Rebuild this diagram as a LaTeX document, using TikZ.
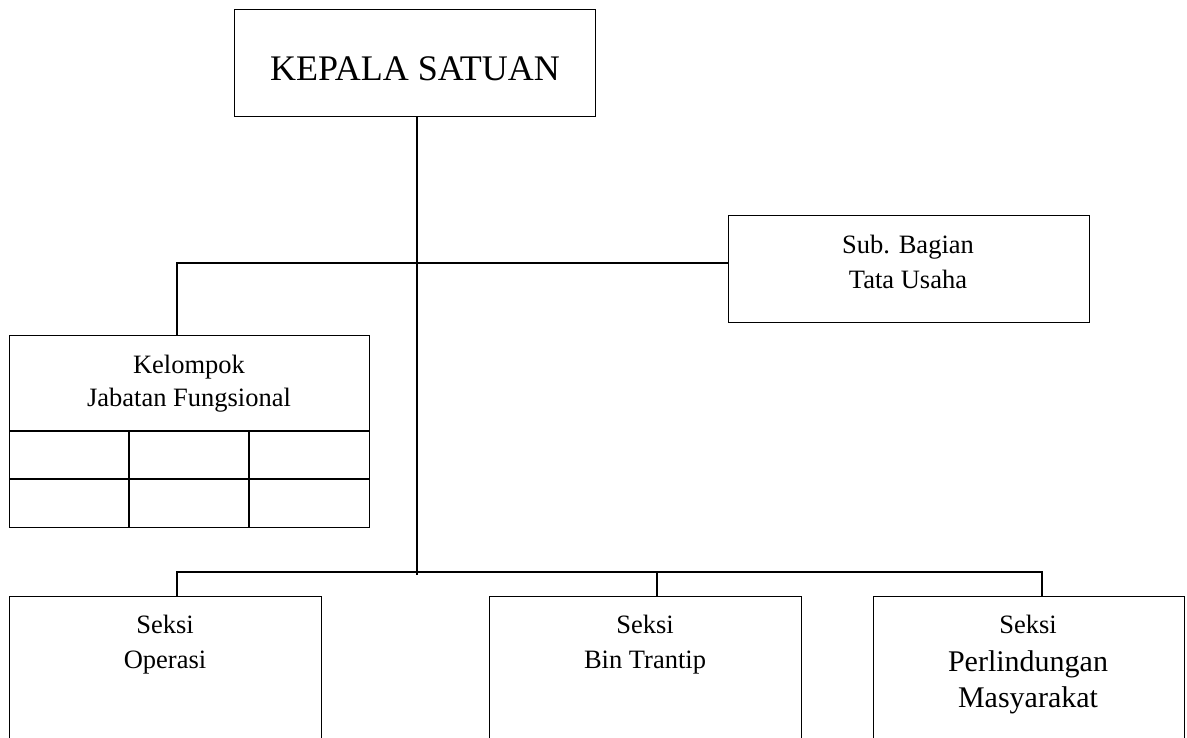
\documentclass[tikz,border=0pt]{standalone}
\usepackage{fontspec}
\setmainfont{Liberation Serif}
\begin{document}
\begin{tikzpicture}[x=1pt,y=-1pt,
  box/.style={draw, line width=1.4pt, inner sep=0pt, anchor=north west},
  conn/.style={line width=1.4pt},
  lbl/.style={anchor=base, inner sep=0pt, font=\fontsize{26.5}{30}\selectfont},
  lblbig/.style={anchor=base, inner sep=0pt, font=\fontsize{30}{34}\selectfont},
  title/.style={anchor=base, inner sep=0pt, font=\fontsize{36}{40}\selectfont}]
\clip (0,0) rectangle (1187,737);
\fill[white] (0,0) rectangle (1187,737);
% boxes
\node[box, minimum width=361pt, minimum height=107pt] (kepala) at (234,9) {};
\node[box, minimum width=361pt, minimum height=107pt] (sub) at (728,215) {};
\node[box, minimum width=360pt, minimum height=192pt] (kel) at (9,335) {};
\node[box, minimum width=312pt, minimum height=160pt] (ops) at (9,596) {};
\node[box, minimum width=312pt, minimum height=160pt] (bin) at (489,596) {};
\node[box, minimum width=311pt, minimum height=160pt] (per) at (873,596) {};
% table grid inside Kelompok
\draw[conn] (kel.west |- 0,431) -- (kel.east |- 0,431);
\draw[conn] (kel.west |- 0,479) -- (kel.east |- 0,479);
\draw[conn] (129,431) -- (kel.south -| 129,0);
\draw[conn] (249,431) -- (kel.south -| 249,0);
% texts
\node[title] (tk) at (415,80) {KEPALA SATUAN};
\node[lbl] (ts1) at (908,253) {Sub. Bagian};
\node[lbl] (ts2) at (908,288) {Tata Usaha};
\node[lbl] (tk1) at (189,373) {Kelompok};
\node[lbl] (tk2) at (189,406) {Jabatan Fungsional};
\node[lbl] (to1) at (165,633) {Seksi};
\node[lbl] (to2) at (165,668) {Operasi};
\node[lbl] (tb1) at (645,633) {Seksi};
\node[lbl] (tb2) at (645,668) {Bin Trantip};
\node[lbl] (tp1) at (1028,633) {Seksi};
\node[lblbig] (tp2) at (1028,671) {Perlindungan};
\node[lblbig] (tp3) at (1028,707) {Masyarakat};
% connectors
\coordinate (trunkend) at (417,575);
\coordinate (upl) at (177,263);
\coordinate (lowl) at (177,572);
\coordinate (lowm) at (657,572);
\coordinate (lowr) at (1042,572);
\draw[conn] (kepala.south -| trunkend) -- (trunkend);
\draw[conn] (kel.north -| upl) -- (upl) -- (sub.west |- upl);
\draw[conn] (ops.north -| lowl) -- (lowl) -- (lowr) -- (per.north -| lowr);
\draw[conn] (bin.north -| lowm) -- (lowm);
\end{tikzpicture}
\end{document}
